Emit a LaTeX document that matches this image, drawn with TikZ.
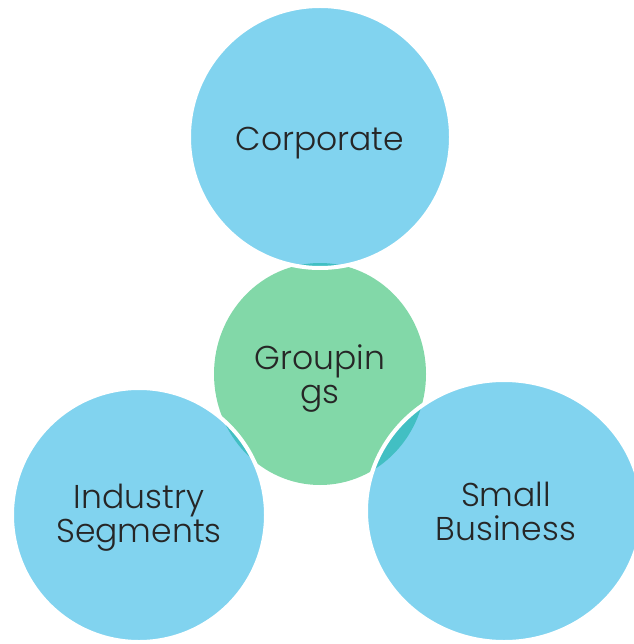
\documentclass[tikz,border=0pt]{standalone}
\usepackage{fontspec}
\usetikzlibrary{shapes.geometric}
\IfFontExistsTF{Poppins Light}{\setmainfont{Poppins Light}}{\setmainfont{Poppins}}
\definecolor{cblue}{HTML}{81D3EF}
\definecolor{cgreen}{HTML}{82D8A8}
\definecolor{cteal}{HTML}{42BFC3}
\definecolor{ctext}{HTML}{262626}
\tikzset{
  outer/.style={ellipse, fill=cblue, inner sep=0pt, outer sep=0pt},
  inner/.style={ellipse, fill=cgreen, inner sep=0pt, outer sep=0pt},
  label/.style={text=ctext, align=center, font=\fontsize{33}{34}\selectfont},
  lens/.style={fill=cteal},
  rim/.style={draw=white, line width=4pt}
}
\begin{document}
\begin{tikzpicture}[x=1pt,y=-1pt]
\useasboundingbox[fill=white] (0,0) rectangle (633,644);
\node[inner, minimum width=212pt, minimum height=222pt] (grp) at (320,374) {};
\node[outer, minimum width=262pt, minimum height=262pt] (corp) at (320,137) {};
\node[outer, minimum width=254pt, minimum height=254pt] (ind) at (139,515) {};
\node[outer, minimum width=276pt, minimum height=262pt] (small) at (504,511) {};
\foreach \c/\rx/\ry in {corp/131pt/131pt, ind/127pt/127pt, small/138pt/131pt}{
  \begin{scope}
    \clip (\c.center) ellipse[x radius=\rx, y radius=\ry];
    \fill[lens] (grp.center) ellipse[x radius=106pt, y radius=111pt];
  \end{scope}
  \draw[rim] (\c.center) ellipse[x radius=\rx, y radius=\ry];
}
\node[label] (tcorp) at ([yshift=-6pt]corp.center) {Corporate};
\node[label] (tgrp) at ([yshift=-5pt]grp.center) {Groupin\\gs};
\node[label] (tind) at ([yshift=-3pt]ind.center) {Industry\\Segments};
\node[label] (tsmall) at ([xshift=2pt]small.center) {Small\\Business};
\end{tikzpicture}
\end{document}
